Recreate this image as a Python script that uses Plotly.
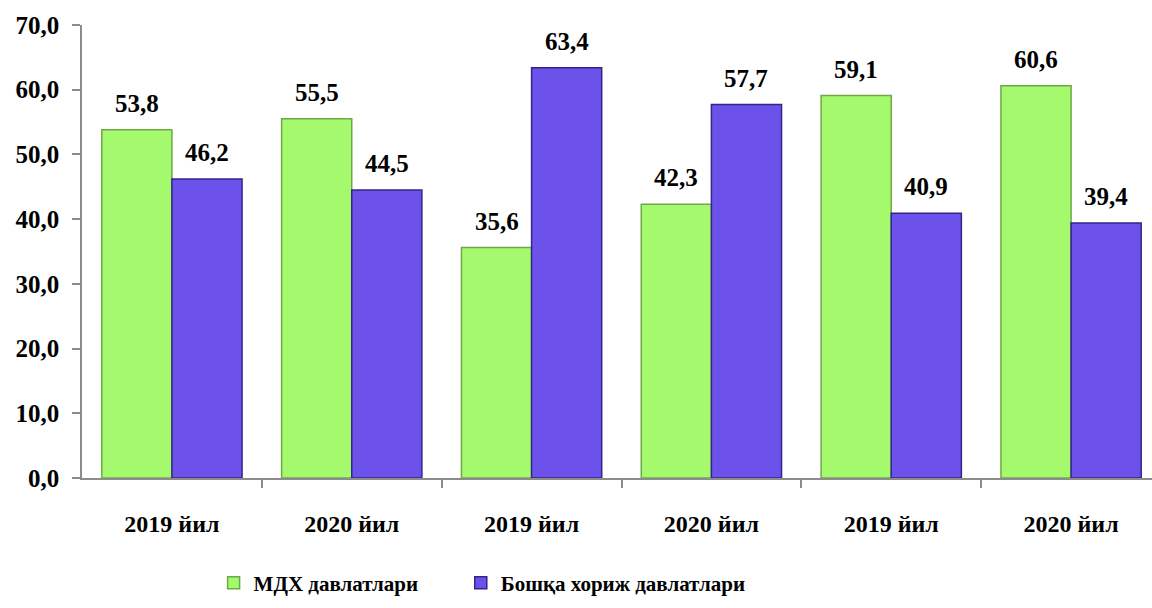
import plotly.graph_objects as go

categories = ["2019 йил", "2020 йил", "2019 йил", "2020 йил", "2019 йил", "2020 йил"]
series_names = ["МДХ давлатлари", "Бошқа хориж давлатлари"]
mdh = [53.8, 55.5, 35.6, 42.3, 59.1, 60.6]
other = [46.2, 44.5, 63.4, 57.7, 40.9, 39.4]
y_ticks = [0, 10, 20, 30, 40, 50, 60, 70]

FONT = "Liberation Serif"
GREEN = "#A4F96C"
GREEN_LINE = "#6FA84A"
PURPLE = "#6C52EA"
PURPLE_LINE = "#33268A"
AXIS = "#8C8C8C"

x = list(range(len(categories)))
bargap = 0.22
bw = (1 - bargap) / 2

fig = go.Figure()
fig.add_trace(go.Bar(x=x, y=mdh, name=series_names[0], legend="legend",
                     marker=dict(color=GREEN, line=dict(color=GREEN_LINE, width=1.5))))
fig.add_trace(go.Bar(x=x, y=other, name=series_names[1], legend="legend2",
                     marker=dict(color=PURPLE, line=dict(color=PURPLE_LINE, width=1.5))))

def fmt(v):
    return f"{v:.1f}".replace(".", ",")

annotations = []
for i in x:
    for vals, off in ((mdh, -bw / 2), (other, bw / 2)):
        annotations.append(dict(x=i + off, y=vals[i], text=fmt(vals[i]), showarrow=False,
                                xref="x", yref="y", yanchor="bottom", yshift=11,
                                font=dict(family=FONT, size=25, color="black", weight="bold")))

legend_font = dict(family=FONT, size=21, color="black", weight="bold")

fig.update_layout(
    width=1152, height=608,
    margin=dict(l=82, r=0, t=25, b=130),
    paper_bgcolor="white", plot_bgcolor="white",
    barmode="group", bargap=bargap, bargroupgap=0,
    font=dict(family=FONT, color="black", weight="bold"),
    annotations=annotations,
    showlegend=True,
    legend=dict(orientation="h", x=0.123, xanchor="left", y=-0.232, yanchor="middle",
                font=legend_font),
    legend2=dict(orientation="h", x=0.354, xanchor="left", y=-0.232, yanchor="middle",
                 font=legend_font),
    xaxis=dict(range=[-0.5, len(categories) - 0.55], tickvals=x, ticktext=categories,
               ticks="", showgrid=False, zeroline=False,
               showline=True, linecolor=AXIS, linewidth=1.5,
               ticklabelstandoff=23,
               tickfont=dict(family=FONT, size=24, color="black", weight="bold"),
               minor=dict(tickvals=[i + 0.5 for i in x[:-1]], ticks="outside",
                          ticklen=8, tickcolor=AXIS, tickwidth=1.5, showgrid=False)),
    yaxis=dict(range=[0, 70], tickvals=y_ticks, ticktext=[fmt(v) for v in y_ticks],
               ticks="outside", ticklen=8, tickcolor=AXIS, tickwidth=1.5,
               showgrid=False, zeroline=False,
               showline=True, linecolor=AXIS, linewidth=1.5,
               ticklabelstandoff=8,
               tickfont=dict(family=FONT, size=25, color="black", weight="bold")),
)

fig.write_html("out.html", config={"displayModeBar": False},
               post_script="document.body.style.margin='0';")
